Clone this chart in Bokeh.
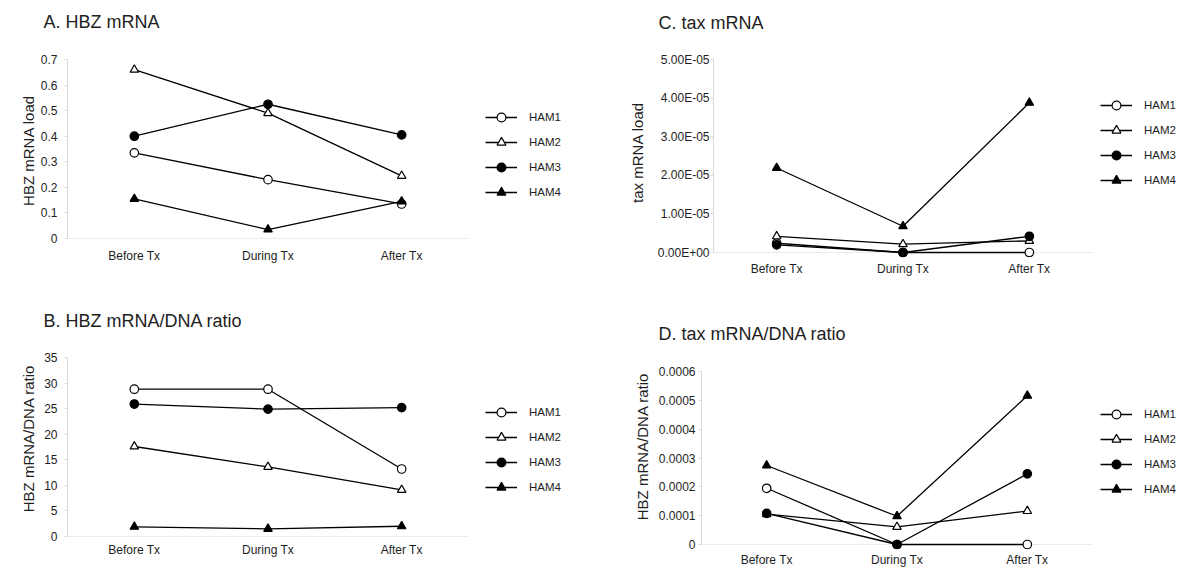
import math
from bokeh.plotting import figure
from bokeh.layouts import row, column, Spacer
from bokeh.models import (ColumnDataSource, FixedTicker, Legend, LegendItem,
                          BoxAnnotation, Range1d, Label)
from bokeh.embed import file_html
from bokeh.resources import INLINE

FONT = "Liberation Sans"
TXT = "#1e1e1e"
AXC = "#d9d9d9"

categories = ["Before Tx", "During Tx", "After Tx"]
series_names = ["HAM1", "HAM2", "HAM3", "HAM4"]

# A. HBZ mRNA load
a_ham1 = [0.335, 0.23, 0.135]
a_ham2 = [0.66, 0.49, 0.245]
a_ham3 = [0.40, 0.525, 0.405]
a_ham4 = [0.155, 0.035, 0.145]
a_ticks = [0, 0.1, 0.2, 0.3, 0.4, 0.5, 0.6, 0.7]
a_tick_labels = ["0", "0.1", "0.2", "0.3", "0.4", "0.5", "0.6", "0.7"]

# B. HBZ mRNA/DNA ratio
b_ham1 = [28.8, 28.8, 13.2]
b_ham2 = [17.6, 13.6, 9.1]
b_ham3 = [25.9, 24.9, 25.2]
b_ham4 = [1.9, 1.5, 2.0]
b_ticks = [0, 5, 10, 15, 20, 25, 30, 35]
b_tick_labels = ["0", "5", "10", "15", "20", "25", "30", "35"]

# C. tax mRNA load
c_ham1 = [2.4e-6, 0.0, 0.0]
c_ham2 = [4.2e-6, 2.15e-6, 3.0e-6]
c_ham3 = [2.0e-6, 0.0, 4.2e-6]
c_ham4 = [2.19e-5, 6.8e-6, 3.88e-5]
c_ticks = [0.0, 1e-05, 2e-05, 3e-05, 4e-05, 5e-05]
c_tick_labels = ["0.00E+00", "1.00E-05", "2.00E-05", "3.00E-05", "4.00E-05", "5.00E-05"]

# D. tax mRNA/DNA ratio
d_ham1 = [1.95e-4, 0.0, 0.0]
d_ham2 = [1.05e-4, 0.61e-4, 1.16e-4]
d_ham3 = [1.08e-4, 0.0, 2.45e-4]
d_ham4 = [2.74e-4, 0.98e-4, 5.16e-4]
d_ticks = [0.0, 0.0001, 0.0002, 0.0003, 0.0004, 0.0005, 0.0006]
d_tick_labels = ["0", "0.0001", "0.0002", "0.0003", "0.0004", "0.0005", "0.0006"]

markers = ["circle", "triangle", "circle", "triangle"]
fills = ["white", "white", "black", "black"]

ncat = len(categories)
cat_x = [i + 0.5 for i in range(ncat)]


def panel(title, ylabel, series, ymax, ticks, tick_labels, width, height,
          bl, bt, data_w, data_h, title_off, ylabel_off, tick_standoff,
          cat_standoff, leg_xy):
    # title_off / ylabel_off: (dx, dy) px of text centre-left / centre,
    # relative to frame left edge and the zero line (dy upwards)
    pad_px = 5
    frame_h = data_h + pad_px
    frame_w = width - bl
    bb = height - bt - frame_h
    ystart = -ymax * pad_px / data_h
    xend = ncat * frame_w / data_w
    p = figure(x_range=Range1d(0, xend),
               y_range=Range1d(ystart, ymax),
               width=width, height=height,
               min_border_left=bl, min_border_right=0,
               min_border_top=bt, min_border_bottom=bb,
               output_backend="svg", toolbar_location=None,
               background_fill_color="white", border_fill_color="white")
    p.outline_line_color = None
    p.xgrid.visible = False
    p.ygrid.visible = False

    def px_to_data(dx, dy):
        return dx / data_w * ncat, dy / data_h * ymax

    tx, ty = px_to_data(*title_off)
    p.add_layout(Label(x=tx, y=ty, text=title, text_font=FONT,
                       text_font_size="18px", text_color=TXT,
                       text_align="left", text_baseline="middle"), "above")
    lx, ly = px_to_data(*ylabel_off)
    p.add_layout(Label(x=lx, y=ly, text=ylabel, text_font=FONT,
                       text_font_size="15px", text_color=TXT,
                       angle=math.pi / 2, text_align="center",
                       text_baseline="middle"), "left")

    ya = p.yaxis[0]
    ya.ticker = FixedTicker(ticks=ticks)
    ya.major_label_overrides = {t: s for t, s in zip(ticks, tick_labels)}
    ya.bounds = (0, ymax)
    ya.axis_line_color = AXC
    ya.major_tick_line_color = AXC
    ya.major_tick_out = 3
    ya.major_tick_in = 0
    ya.minor_tick_line_color = None
    ya.major_label_standoff = tick_standoff
    ya.major_label_text_font = FONT
    ya.major_label_text_font_size = "12px"
    ya.major_label_text_color = TXT

    xa = p.xaxis[0]
    xa.ticker = FixedTicker(ticks=cat_x)
    xa.major_label_overrides = {t: s for t, s in zip(cat_x, categories)}
    xa.axis_line_color = None
    xa.major_tick_line_color = None
    xa.minor_tick_line_color = None
    xa.major_label_standoff = cat_standoff
    xa.major_label_text_font = FONT
    xa.major_label_text_font_size = "12px"
    xa.major_label_text_color = TXT

    zero = BoxAnnotation(left=0, right=ncat, bottom=0, top=0,
                         fill_alpha=0, line_color=AXC, line_width=1,
                         level="underlay")
    p.add_layout(zero)

    items = []
    for name, vals, mk, fc in zip(series_names, series, markers, fills):
        src = ColumnDataSource(dict(x=cat_x, y=vals))
        lr = p.line("x", "y", source=src, line_color="black", line_width=1.3)
        sr = p.scatter("x", "y", source=src, marker=mk, size=8.5,
                       fill_color=fc, line_color="black", line_width=1.2)
        items.append(LegendItem(label=name, renderers=[lr, sr]))

    leg = Legend(items=items, location=(data_w + leg_xy[0], leg_xy[1]),
                 orientation="vertical",
                 glyph_width=32, glyph_height=22, label_height=22,
                 label_standoff=12, spacing=3, padding=0, margin=0,
                 border_line_color=None, background_fill_alpha=0,
                 label_text_font=FONT, label_text_font_size="11.5px",
                 label_text_color=TXT)
    p.add_layout(leg, "center")
    return p


# A: frame left 67, top 59, zero line y 238
pA = panel("A. HBZ mRNA", "HBZ mRNA load", [a_ham1, a_ham2, a_ham3, a_ham4],
           0.7, a_ticks, a_tick_labels, 588, 290, 67, 59, 401, 179,
           (43 - 67, 238 - 21), (28 - 67, 238 - 150), 7, -1, (17, 40))
# B: figure top 290, frame left 67, top 357, zero 536
pB = panel("B. HBZ mRNA/DNA ratio", "HBZ mRNA/DNA ratio",
           [b_ham1, b_ham2, b_ham3, b_ham4],
           35, b_ticks, b_tick_labels, 588, 288, 67, 67, 401, 179,
           (43 - 67, 536 - 320), (28 - 67, 536 - 438), 7, -5, (17, 43))
# C: figure left 600 (after spacer), frame left 713, top 59, zero 252
pC = panel("C. tax mRNA", "tax mRNA load", [c_ham1, c_ham2, c_ham3, c_ham4],
           5e-05, c_ticks, c_tick_labels, 588, 290, 113, 59, 379, 193,
           (658 - 713, 252 - 22), (637 - 713, 252 - 152), 1, -2, (8, 66))
# D: figure left 588, top 290, frame left 701, top 371, zero 544
pD = panel("D. tax mRNA/DNA ratio", "HBZ mRNA/DNA ratio",
           [d_ham1, d_ham2, d_ham3, d_ham4],
           0.0006, d_ticks, d_tick_labels, 600, 288, 113, 81, 391, 173,
           (658 - 701, 544 - 333), (642 - 701, 544 - 446), 3, -3, (8, 49))

layout = row(column(pA, pB), column(row(Spacer(width=12, height=290), pC), pD))
open("out.html", "w").write(file_html(layout, INLINE))
